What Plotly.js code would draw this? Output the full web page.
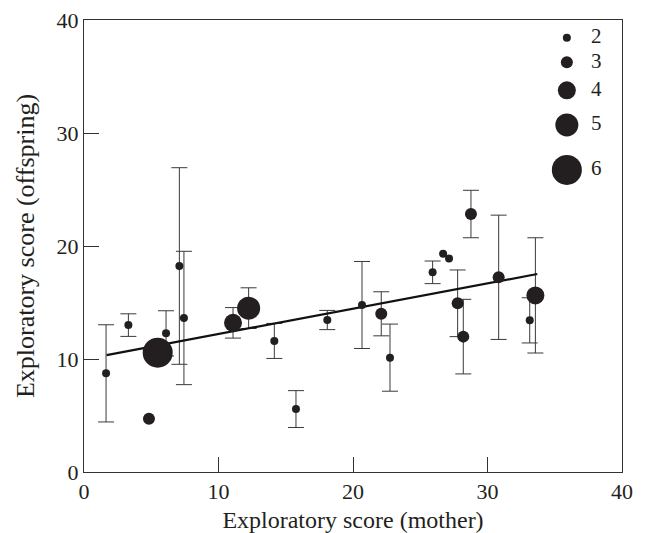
<!DOCTYPE html>
<html>
<head>
<meta charset="utf-8">
<script src="https://cdn.plot.ly/plotly-3.0.1.min.js"></script>
<style>html,body{margin:0;padding:0;background:#fff;}#chart{width:645px;height:533px;}</style>
</head>
<body>
<div id="chart"></div>
<script>
// Data
var motherScore    = [1.64, 3.30, 4.83, 5.48, 6.10, 7.09, 7.43, 11.08, 12.24, 14.15, 15.76, 18.09, 20.67, 22.10, 22.75, 25.92, 26.70, 27.14, 27.78, 28.20, 28.77, 30.83, 33.14, 33.56];
var offspringScore = [8.73, 13.00, 4.72, 10.56, 12.27, 18.23, 13.63, 13.20, 14.50, 11.60, 5.57, 13.45, 14.78, 14.00, 10.12, 17.67, 19.32, 18.90, 14.93, 11.98, 22.83, 17.23, 13.42, 15.63];
var offspringError = [4.30, 1.00, 0, 0, 2.00, 8.70, 5.90, 1.35, 1.80, 1.55, 1.63, 0.85, 3.85, 1.95, 2.97, 1.00, 0, 0, 2.95, 3.30, 2.10, 5.50, 2.00, 5.10];
var groupSize      = [2, 2, 3, 6, 2, 2, 2, 4, 5, 2, 2, 2, 2, 3, 2, 2, 2, 2, 3, 3, 3, 3, 2, 4];
var fitLineX = [1.68, 33.7];
var fitLineY = [10.35, 17.52];
var legendSizes = [2, 3, 4, 5, 6];
var xTicks = [0, 10, 20, 30, 40];
var yTicks = [0, 10, 20, 30, 40];

// Styles
var sizePx = {2: 8, 3: 12, 4: 18, 5: 23, 6: 30};
var ink = '#231f20';
var fontFam = '"Liberation Serif", "DejaVu Serif", serif';

// Error-bar trace (only points with bars)
var ex = [], ey = [], ee = [];
for (var i = 0; i < motherScore.length; i++) {
  if (offspringError[i] > 0) { ex.push(motherScore[i]); ey.push(offspringScore[i]); ee.push(offspringError[i]); }
}
var errTrace = {
  x: ex, y: ey, mode: 'markers', type: 'scatter', showlegend: false, hoverinfo: 'skip',
  marker: {size: 1, opacity: 0},
  error_y: {type: 'data', array: ee, symmetric: true, color: '#3a3a3a', thickness: 1, width: 8}
};

var fitTrace = {
  x: fitLineX, y: fitLineY, mode: 'lines', type: 'scatter', showlegend: false,
  line: {color: '#111', width: 2.2}
};

var ptTrace = {
  x: motherScore, y: offspringScore, mode: 'markers', type: 'scatter', showlegend: false,
  marker: {size: groupSize.map(function (s) { return sizePx[s]; }), color: ink, opacity: 1, line: {width: 0}}
};

// Size key (placed in the upper right of the plot)
var keyX = 35.9, keyLabelX = 37.7;
var keyY = {2: 38.43, 3: 36.26, 4: 33.78, 5: 30.71, 6: 26.73};
var keyTrace = {
  x: legendSizes.map(function () { return keyX; }),
  y: legendSizes.map(function (s) { return keyY[s]; }),
  mode: 'markers', type: 'scatter', showlegend: false, hoverinfo: 'skip',
  marker: {size: legendSizes.map(function (s) { return sizePx[s]; }), color: ink, opacity: 1, line: {width: 0}}
};
var keyText = {
  x: legendSizes.map(function () { return keyLabelX; }),
  y: legendSizes.map(function (s) { return keyY[s]; }),
  text: legendSizes.map(String),
  mode: 'text', type: 'scatter', showlegend: false, hoverinfo: 'skip',
  textposition: 'middle right',
  textfont: {family: fontFam, size: 21, color: ink}
};

var axisCommon = {
  range: [0, 40], showgrid: false, zeroline: false,
  showline: true, linecolor: '#333', linewidth: 1, mirror: true,
  ticks: 'inside', ticklen: 15, tickwidth: 1, tickcolor: '#333',
  tickfont: {family: fontFam, size: 22, color: ink},
  fixedrange: true
};

var layout = {
  width: 645, height: 533,
  margin: {l: 84, r: 23, t: 20, b: 61},
  paper_bgcolor: '#fff', plot_bgcolor: '#fff',
  font: {family: fontFam, color: ink},
  xaxis: Object.assign({}, axisCommon, {
    tickvals: xTicks, ticktext: xTicks.map(String),
    title: {text: 'Exploratory score (mother)', font: {family: fontFam, size: 24, color: ink}, standoff: 8}
  }),
  yaxis: Object.assign({}, axisCommon, {
    tickvals: yTicks, ticktext: yTicks.map(String),
    title: {text: 'Exploratory score (offspring)', font: {family: fontFam, size: 26, color: ink}, standoff: 14}
  }),
  showlegend: false
};

Plotly.newPlot('chart', [errTrace, fitTrace, ptTrace, keyTrace, keyText], layout, {displayModeBar: false, staticPlot: true});
</script>
</body>
</html>
